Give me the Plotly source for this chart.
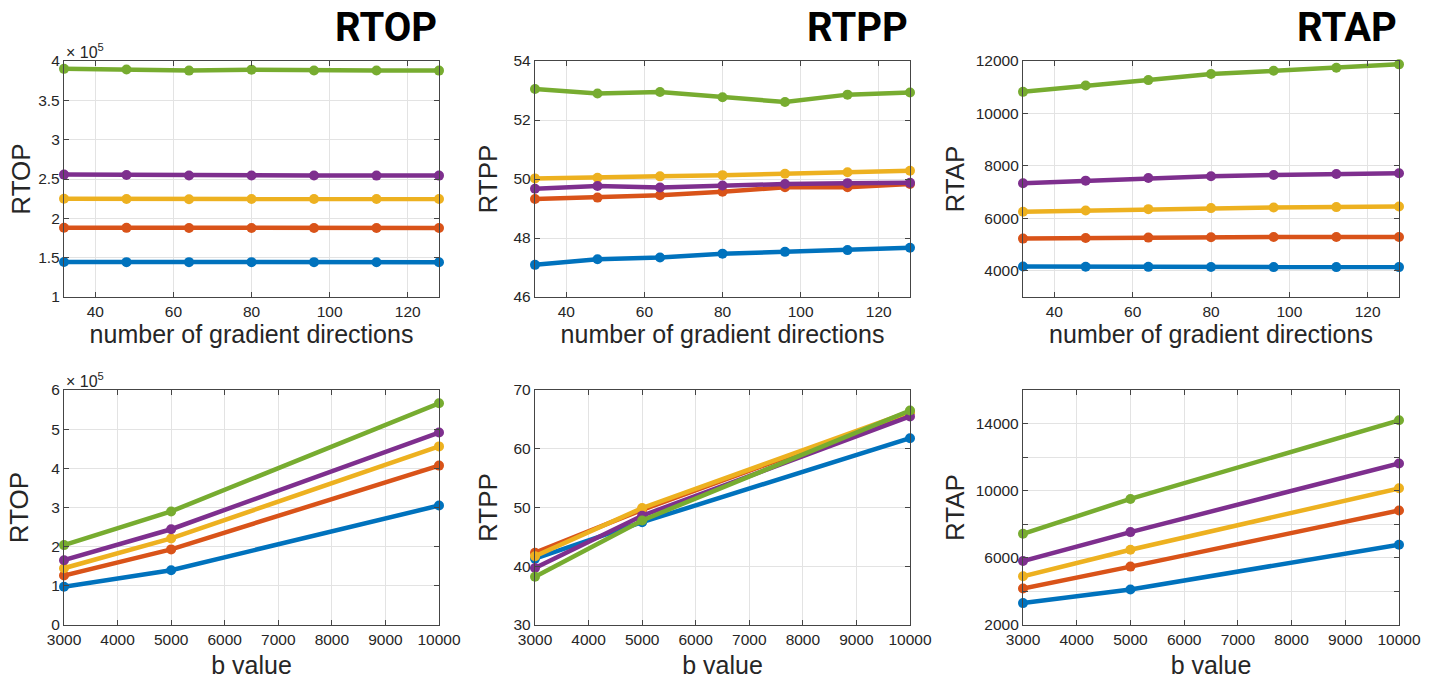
import plotly.graph_objects as go

# ---------------- data ----------------
n_dirs = [32, 48, 64, 80, 96, 112, 128]
b_values = [3000, 5000, 10000]

series_names = ["S1", "S2", "S3", "S4", "S5"]
colors = ["#0072BD", "#D95319", "#EDB120", "#7E2F8E", "#77AC30"]

# RTOP (x 10^5) vs number of gradient directions
rtop_dirs_blue = [1.445, 1.443, 1.443, 1.443, 1.443, 1.442, 1.442]
rtop_dirs_orange = [1.880, 1.879, 1.878, 1.878, 1.878, 1.878, 1.878]
rtop_dirs_yellow = [2.248, 2.246, 2.243, 2.245, 2.245, 2.245, 2.245]
rtop_dirs_purple = [2.556, 2.550, 2.545, 2.545, 2.545, 2.543, 2.543]
rtop_dirs_green = [3.900, 3.893, 3.878, 3.890, 3.880, 3.880, 3.878]

# RTPP vs number of gradient directions
rtpp_dirs_blue = [47.09, 47.28, 47.34, 47.47, 47.53, 47.59, 47.67]
rtpp_dirs_orange = [49.32, 49.37, 49.45, 49.57, 49.72, 49.72, 49.83]
rtpp_dirs_yellow = [50.02, 50.04, 50.09, 50.13, 50.18, 50.23, 50.28]
rtpp_dirs_purple = [49.67, 49.76, 49.71, 49.78, 49.83, 49.86, 49.87]
rtpp_dirs_green = [53.05, 52.90, 52.95, 52.77, 52.61, 52.86, 52.93]

# RTAP vs number of gradient directions
rtap_dirs_blue = [4160, 4155, 4150, 4145, 4140, 4140, 4140]
rtap_dirs_orange = [5227, 5253, 5265, 5278, 5291, 5291, 5291]
rtap_dirs_yellow = [6249, 6300, 6351, 6390, 6415, 6428, 6453]
rtap_dirs_purple = [7335, 7437, 7540, 7604, 7655, 7693, 7719]
rtap_dirs_green = [10824, 11067, 11272, 11502, 11629, 11744, 11872]

# RTOP (x 10^5) vs b value
rtop_b_blue = [0.976, 1.40, 3.05]
rtop_b_orange = [1.265, 1.93, 4.07]
rtop_b_yellow = [1.45, 2.21, 4.56]
rtop_b_purple = [1.655, 2.445, 4.915]
rtop_b_green = [2.04, 2.90, 5.66]

# RTPP vs b value
rtpp_b_blue = [41.3, 47.5, 61.8]
rtpp_b_orange = [42.3, 49.6, 66.2]
rtpp_b_yellow = [41.7, 49.9, 66.3]
rtpp_b_purple = [39.7, 48.6, 65.5]
rtpp_b_green = [38.2, 47.8, 66.5]

# RTAP vs b value
rtap_b_blue = [3304, 4115, 6783]
rtap_b_orange = [4174, 5478, 8818]
rtap_b_yellow = [4905, 6486, 10142]
rtap_b_purple = [5814, 7534, 11625]
rtap_b_green = [7435, 9510, 14194]

panel_titles = ["RTOP", "RTPP", "RTAP"]
x_title_top = "number of gradient directions"
x_title_bottom = "b value"

x_ticks_dirs = [40, 60, 80, 100, 120]
x_ticks_b = [3000, 4000, 5000, 6000, 7000, 8000, 9000, 10000]

y_ticks_rtop_dirs = [1, 1.5, 2, 2.5, 3, 3.5, 4]
y_ticks_rtpp_dirs = [46, 48, 50, 52, 54]
y_ticks_rtap_dirs = [4000, 6000, 8000, 10000, 12000]
y_ticks_rtop_b = [0, 1, 2, 3, 4, 5, 6]
y_ticks_rtpp_b = [30, 40, 50, 60, 70]
y_ticks_rtap_b = [2000, 6000, 10000, 14000]
y_minor_rtap_b = [4000, 8000, 12000, 16000]

# ---------------- figure ----------------
W, H = 1436, 679
fig = go.Figure()

panels = [
    ("", n_dirs, [rtop_dirs_blue, rtop_dirs_orange, rtop_dirs_yellow, rtop_dirs_purple, rtop_dirs_green]),
    ("2", n_dirs, [rtpp_dirs_blue, rtpp_dirs_orange, rtpp_dirs_yellow, rtpp_dirs_purple, rtpp_dirs_green]),
    ("3", n_dirs, [rtap_dirs_blue, rtap_dirs_orange, rtap_dirs_yellow, rtap_dirs_purple, rtap_dirs_green]),
    ("4", b_values, [rtop_b_blue, rtop_b_orange, rtop_b_yellow, rtop_b_purple, rtop_b_green]),
    ("5", b_values, [rtpp_b_blue, rtpp_b_orange, rtpp_b_yellow, rtpp_b_purple, rtpp_b_green]),
    ("6", b_values, [rtap_b_blue, rtap_b_orange, rtap_b_yellow, rtap_b_purple, rtap_b_green]),
]

for suf, xs, ys_list in panels:
    for name, col, ys in zip(series_names, colors, ys_list):
        fig.add_trace(go.Scatter(
            x=xs, y=ys, mode="lines+markers", name=name,
            line=dict(color=col, width=4.5),
            marker=dict(color=col, size=10),
            xaxis="x" + suf, yaxis="y" + suf,
            showlegend=False, cliponaxis=False,
        ))

# pixel geometry of plot areas
cols_px = [(64, 439), (535, 910), (1023, 1399)]
rows_px = [(61, 297), (390, 625)]


def xdom(c):
    return [c[0] / W, c[1] / W]


def ydom(r):
    return [1 - r[1] / H, 1 - r[0] / H]


TICKFONT = dict(family="Liberation Sans, Arial, sans-serif", size=15.5, color="#262626")
TITLEFONT = dict(family="Liberation Sans, Arial, sans-serif", size=25, color="#262626")
GRID = "#e3e3e3"
FRAME = "#454545"

common_ax = dict(
    showline=True, linecolor=FRAME, linewidth=1.3, mirror="ticks",
    ticks="inside", ticklen=5, tickwidth=1, tickcolor=FRAME,
    showgrid=True, gridcolor=GRID, gridwidth=1, zeroline=False,
    tickfont=TICKFONT, fixedrange=True, automargin=False,
)

x_specs = [
    (x_ticks_dirs, [32, 128], x_title_top, 3),
    (x_ticks_dirs, [32, 128], x_title_top, 3),
    (x_ticks_dirs, [32, 128], x_title_top, 3),
    (x_ticks_b, [3000, 10000], x_title_bottom, 11),
    (x_ticks_b, [3000, 10000], x_title_bottom, 11),
    (x_ticks_b, [3000, 10000], x_title_bottom, 11),
]
y_specs = [
    (y_ticks_rtop_dirs, [1, 4], "RTOP", None, 0),
    (y_ticks_rtpp_dirs, [46, 54], "RTPP", None, 8),
    (y_ticks_rtap_dirs, [3000, 12000], "RTAP", None, 3),
    (y_ticks_rtop_b, [0, 6], "RTOP", None, 15),
    (y_ticks_rtpp_b, [30, 70], "RTPP", None, 8),
    (y_ticks_rtap_b, [2000, 16000], "RTAP", y_minor_rtap_b, 3),
]

layout_axes = {}
for i in range(6):
    r, c = divmod(i, 3)
    suf = "" if i == 0 else str(i + 1)
    xt, xr, xtitle, xso = x_specs[i]
    yt, yr, ytitle, yminor, yso = y_specs[i]
    layout_axes["xaxis" + suf] = dict(
        common_ax, domain=xdom(cols_px[c]), range=xr, tickvals=xt,
        ticktext=[str(v) for v in xt], anchor="y" + suf,
        title=dict(text=xtitle, font=TITLEFONT, standoff=xso),
    )
    yax = dict(
        common_ax, domain=ydom(rows_px[r]), range=yr, tickvals=yt,
        ticktext=[str(v) for v in yt], anchor="x" + suf,
        title=dict(text=ytitle, font=dict(TITLEFONT, size=26), standoff=yso),
    )
    if yminor is not None:
        yax["minor"] = dict(tickvals=yminor, ticks="inside", ticklen=5,
                            tickcolor=FRAME, showgrid=True, gridcolor=GRID)
    layout_axes["yaxis" + suf] = yax

annotations = []
# panel titles (top right of each column)
for c, t in enumerate(panel_titles):
    annotations.append(dict(
        text="<b>%s</b>" % t, xref="paper", yref="paper",
        x=cols_px[c][1] / W, y=1 - 28 / H, xanchor="right", yanchor="middle",
        showarrow=False,
        font=dict(family="Roboto, Liberation Sans Narrow, sans-serif",
                  size=40, color="#000000"),
    ))
# exponent labels
for r in range(2):
    annotations.append(dict(
        text="\u00d7 10<sup>5</sup>", xref="paper", yref="paper",
        x=cols_px[0][0] / W, y=1 - (rows_px[r][0] + 2) / H,
        xanchor="left", yanchor="bottom", showarrow=False,
        font=dict(family="Liberation Sans, Arial, sans-serif", size=16, color="#262626"),
    ))

fig.update_layout(
    width=W, height=H, autosize=False,
    margin=dict(l=0, r=0, t=0, b=0, autoexpand=False),
    paper_bgcolor="white", plot_bgcolor="white",
    showlegend=False, annotations=annotations,
    **layout_axes,
)

fig.write_html("out.html", config={"displayModeBar": False},
               post_script="document.body.style.margin='0px';document.body.style.overflow='hidden';")
